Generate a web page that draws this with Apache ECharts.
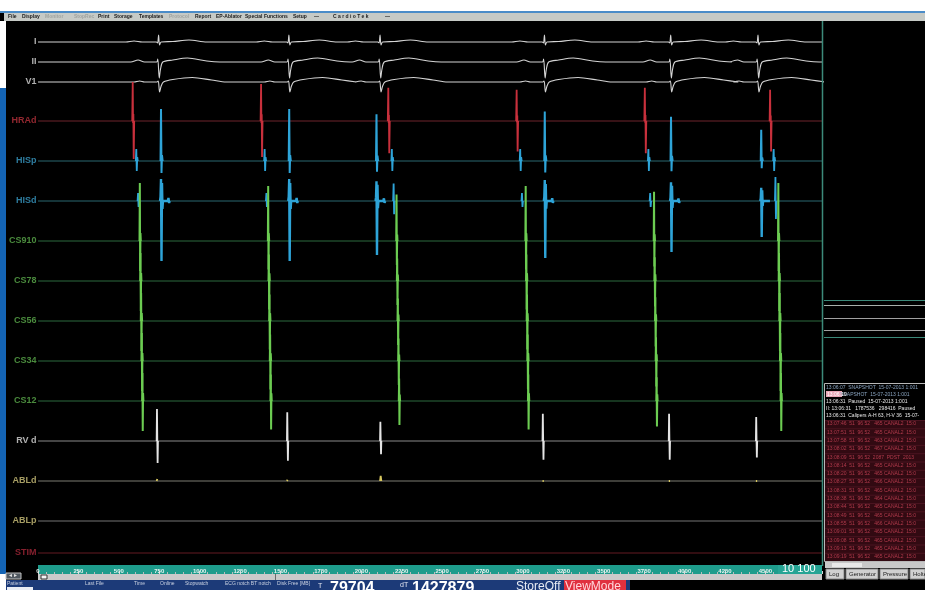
<!DOCTYPE html>
<html>
<head>
<meta charset="UTF-8">
<title>EP recording</title>
<script src="https://cdn.jsdelivr.net/npm/echarts/dist/echarts.min.js"></script>
<style>
  html, body { margin: 0; padding: 0; background: #fff; }
  #main { width: 925px; height: 590px; }
</style>
</head>
<body>
<div id="main"></div>
<script>
// channels (y = baseline position on the value axis, same units as the screen rows)
var channelNames = ['I', 'II', 'V1', 'HRAd', 'HISp', 'HISd', 'CS910', 'CS78', 'CS56', 'CS34', 'CS12', 'RV d', 'ABLd', 'ABLp', 'STIM'];
var channelBase  = [42, 62, 82, 121, 161, 201, 241, 281, 321, 361, 401, 441, 481, 521, 553];
var labelColors  = ['#dcdcdc', '#dcdcdc', '#dcdcdc', '#b8323c', '#3a9cc8', '#3a9cc8', '#5cae4c', '#5cae4c', '#5cae4c', '#5cae4c', '#5cae4c', '#dcdcdc', '#cfc47c', '#cfc47c', '#a8283a'];
var baseColors   = ['#c8c8c8', '#c8c8c8', '#c8c8c8', '#6e252c', '#2a6870', '#2a6870', '#2c6a3e', '#2c6a3e', '#2c6a3e', '#2c6a3e', '#2c6a3e', '#8a8a8a', '#7c7c72', '#747474', '#641a22'];

// beat times in ms
var qrsTimes  = [744, 1550, 2114, 3131, 3912, 4452];
var hraTimes  = [589, 1383, 2170, 2964, 3757, 4532];
var hisTimes  = [763, 1556, 2096, 3137, 3918, 4476];
var csTimes   = [632, 1426, 2220, 3019, 3813, 4582];
var rvTimes   = [738, 1544, 2120, 3125, 3906, 4445];

// per-beat amplitude factors
var hraScale  = [1, 0.95, 0.85, 0.8, 0.85, 0.8];
var hisScale  = [1, 1, 0.9, 0.95, 0.85, 0.6];
var hisAScale = [1, 1, 2.2, 1, 1, 3];
var csScale   = [1, 0.95, 0.8, 0.95, 0.85, 1];
var rvScale   = [1, 0.9, 0.6, 0.85, 0.85, 0.75];
var ablScale  = [1, 0.6, 2.6, 0.5, 0.5, 0.5];

// deflection shapes: [ms offset, amplitude upward]
var leadIShape  = [[-200, 0], [-150, 1], [-100, 0], [-12, 0], [-4, -1], [2, 7], [8, -3], [18, 0], [90, 0.5], [190, 2], [300, 0]];
var leadIIShape = [[-170, 0], [-125, 2], [-85, 0], [-10, 0], [-3, 3], [6, -16], [14, -7], [28, 0], [90, 2], [180, 4], [300, 1], [380, 0]];
var v1Shape     = [[-150, 0], [-115, 1], [-85, 0], [-8, 0], [0, 1], [8, -10], [18, -4], [32, 0], [90, 2.5], [210, 4.5], [330, 2], [420, 0]];
var hraShape    = [[-6, 0], [-3, 39], [-1, -2], [1, 7], [3, -38], [6, 0]];
var hisAShape   = [[-4, 0], [-1, 12], [2, -10], [5, 4], [8, 0]];
var hisVShape   = [[-5, 0], [-2, 52], [1, -12], [4, 6], [8, 0]];
var hisdAShape  = [[-3, 0], [0, 8], [3, -6], [6, 0]];
var hisdVShape  = [[-8, 0], [-5, 4], [-2, 22], [1, -60], [4, 18], [7, -8], [10, 0], [40, 0], [44, 3], [48, -2], [52, 0]];
var cs910Shape  = [[-4, 0], [-2, 58], [0, -30], [2, 8], [4, 0]];
var csShape     = [[-4, 0], [-2, 28], [0, -30], [2, 8], [4, 0]];
var csDelay     = [0, 4, 8, 12, 16];
var rvShape     = [[-4, 0], [-2, 32], [0, 2], [2, -22], [4, 0]];
var ablShape    = [[-4, 0], [0, 2], [4, 0]];

var xMax = 4850;
var rulerTicks = 4500;

function ecgTrace(times, shape, base) {
  var out = [[0, base]];
  times.forEach(function (t) {
    shape.forEach(function (p) { out.push([t + p[0], base - p[1]]); });
  });
  out.push([xMax, base]);
  return out;
}

function spikes(times, shape, base, delay, scales) {
  var out = [];
  times.forEach(function (t, i) {
    var s = scales ? scales[i] : 1;
    shape.forEach(function (p) { out.push([t + delay + p[0], base - p[1] * s]); });
    out.push([t + delay + shape[shape.length - 1][0] + 1, '-']);
  });
  return out;
}

var series = [];

function flat(i) {
  series.push({
    type: 'line', xAxisIndex: 0, yAxisIndex: 0, showSymbol: false, silent: true,
    data: [[0, channelBase[i]], [xMax, channelBase[i]]],
    lineStyle: { color: baseColors[i], width: 1 }, z: 2
  });
}
function wave(data, color, w, smooth) {
  series.push({
    type: 'line', xAxisIndex: 0, yAxisIndex: 0, showSymbol: false, silent: true,
    data: data, connectNulls: false, smooth: smooth || false,
    lineStyle: { color: color, width: w || 1.3 }, z: 3
  });
}

// ECG leads
wave(ecgTrace(qrsTimes, leadIShape, channelBase[0]), '#d4d4d4', 1.1, 0.3);
wave(ecgTrace(qrsTimes, leadIIShape, channelBase[1]), '#d4d4d4', 1.1, 0.3);
wave(ecgTrace(qrsTimes, v1Shape, channelBase[2]), '#d4d4d4', 1.1, 0.3);
// intracardiac baselines
for (var i = 3; i < channelNames.length; i++) flat(i);
// HRA
wave(spikes(hraTimes, hraShape, channelBase[3], 0, hraScale), '#c8303c', 1.8);
// His
wave(spikes(hraTimes, hisAShape, channelBase[4], 20, null), '#2ea4d8', 1.8);
wave(spikes(hisTimes, hisVShape, channelBase[4], 0, hisScale), '#2ea4d8', 2);
wave(spikes(hraTimes, hisdAShape, channelBase[5], 30, hisAScale), '#2ea4d8', 1.8);
wave(spikes(hisTimes, hisdVShape, channelBase[5], 0, hisScale), '#2ea4d8', 2.4);
// CS
wave(spikes(csTimes, cs910Shape, channelBase[6], csDelay[0], csScale), '#6ccc52', 2);
for (var c = 1; c < 5; c++) {
  wave(spikes(csTimes, csShape, channelBase[6 + c], csDelay[c], csScale), '#6ccc52', 2);
}
// RV / ABL
wave(spikes(rvTimes, rvShape, channelBase[11], 0, rvScale), '#e4e4e4', 1.8);
wave(spikes(rvTimes, ablShape, channelBase[12], 0, ablScale), '#d8c860', 1.8);

// channel names
series.push({
  type: 'scatter', xAxisIndex: 0, yAxisIndex: 0, symbolSize: 1, silent: true,
  itemStyle: { color: 'rgba(0,0,0,0)' },
  data: channelNames.map(function (n, k) {
    return {
      value: [0, channelBase[k]], name: n,
      label: { color: labelColors[k] }
    };
  }),
  label: {
    show: true, position: 'left', distance: 1, formatter: '{b}',
    fontSize: 9, fontWeight: 'bold', fontFamily: 'Liberation Sans, Arial, sans-serif'
  },
  z: 4
});

// ---- screen chrome ----
var menuItems = [['File', 8, 0], ['Display', 22, 0], ['Monitor', 45, 1], ['StopRec', 74, 1], ['Print', 98, 0], ['Storage', 114, 0],
  ['Templates', 139, 0], ['Protocol', 169, 1], ['Report', 195, 0], ['EP-Ablator', 216, 0], ['Special Functions', 245, 0],
  ['Setup', 293, 0], ['\u2014', 314, 0], ['C a r d i o T e k', 333, 0], ['\u2014', 385, 0]];
var statusItems = [['Patient', 7], ['Last File', 85], ['Time', 134], ['Online', 160], ['Stopwatch', 185], ['ECG notch BT notch', 225], ['Disk Free [MB]', 277]];
var logHead = ['13:06:07  SNAPSHOT  15-07-2013 1:001', '          SNAPSHOT  15-07-2013 1:001', '13:06:31  Paused  15-07-2013 1:001',
  'II: 13:06:31   1787536   298416  Paused', '13:06:31  Calipers A-H 63, H-V 36  15-07-'];
var logRows = ['13:07:46  51  96 52   465 CANAL2  15:0', '13:07:51  51  96 52   465 CANAL2  15:0', '13:07:58  51  96 52   463 CANAL2  15:0',
  '13:08:02  51  96 52   467 CANAL2  15:0', '13:08:09  51  96 52  2087  PDST  2013', '13:08:14  51  96 52   465 CANAL2  15:0',
  '13:08:20  51  96 52   465 CANAL2  15:0', '13:08:27  51  96 52   466 CANAL2  15:0', '13:08:31  51  96 52   465 CANAL2  15:0',
  '13:08:38  51  96 52   464 CANAL2  15:0', '13:08:44  51  96 52   465 CANAL2  15:0', '13:08:49  51  96 52   465 CANAL2  15:0',
  '13:08:55  51  96 52   466 CANAL2  15:0', '13:09:01  51  96 52   465 CANAL2  15:0', '13:09:08  51  96 52   465 CANAL2  15:0',
  '13:09:13  51  96 52   465 CANAL2  15:0', '13:09:19  51  96 52   465 CANAL2  15:0'];

var g = [];
function rect(x, y, w, h, fill, stroke, z) {
  g.push({ type: 'rect', shape: { x: x, y: y, width: w, height: h }, style: { fill: fill, stroke: stroke || null, lineWidth: stroke ? 1 : 0 }, silent: true, z: z || 0 });
}
function text(x, y, s, size, color, weight, z) {
  g.push({ type: 'text', x: x, y: y, silent: true, z: z || 10,
    style: { text: s, fontSize: size, fill: color, fontWeight: weight || 'normal', fontFamily: 'Liberation Sans, Arial, sans-serif', textVerticalAlign: 'top' } });
}
function hline(x1, x2, y, color, z) {
  g.push({ type: 'line', shape: { x1: x1, y1: y, x2: x2, y2: y }, style: { stroke: color, lineWidth: 1 }, silent: true, z: z || 5 });
}

// top strip, menu bar
rect(0, 0, 925, 11, '#ffffff');
rect(0, 11, 925, 2, '#4a8cc8');
rect(4, 13, 921, 8, '#c6cac6');
menuItems.forEach(function (m) { text(m[1], 14, m[0], 5, m[2] ? '#a0a4a0' : '#1a1a1a', 'bold'); });
// left edge
rect(0, 21, 6, 67, '#ffffff');
rect(0, 88, 6, 486, '#1464b4');
rect(0, 574, 6, 16, '#ffffff');
// right panel
g.push({ type: 'line', shape: { x1: 822.5, y1: 21, x2: 822.5, y2: 566 }, style: { stroke: '#3c8a7a', lineWidth: 1.5 }, silent: true, z: 5 });
hline(824, 925, 300.5, '#3c8a7a');
hline(824, 925, 305.5, '#a8b0ac');
hline(824, 925, 318.5, '#a0a0a0');
hline(824, 925, 330.5, '#a0a0a0');
hline(824, 925, 337.5, '#3c8a7a');
// log panel
rect(824.5, 383.5, 101, 178, '#000000', '#b8b8b8');
logHead.forEach(function (s, k) { text(826, 385 + k * 7, s, 5, k < 2 ? '#8aa4c0' : '#e8e8e8'); });
rect(826, 391, 16, 6, '#e6a4b4', null, 6);
text(827, 392, '13:06:10', 5, '#ffffff');
rect(825, 420, 100, 141, '#320a12');
logRows.forEach(function (s, k) {
  hline(825, 925, 420.5 + k * 8.3, '#4a1420', 6);
  text(827, 421.5 + k * 8.3, s, 5, '#b23a4c');
});
rect(825, 562, 100, 6, '#c8c8c8');
rect(832, 563, 30, 4, '#e8e8e8');
[['Log', 826, 18], ['Generator', 846, 32], ['Pressure', 880, 28], ['Holte', 910, 15]].forEach(function (t) {
  rect(t[1], 569, t[2], 10, '#d0d0d0', '#8a8a8a');
  text(t[1] + 3, 571, t[0], 6, '#222');
});
// ruler end box and scrollbar
rect(778, 565, 44, 9, '#26a494', null, 8);
text(782, 563.5, '10 100', 11, '#ffffff', 'normal', 9);
rect(38, 574, 784, 6, '#cacaca');
rect(41, 575, 6, 4, '#f4f4f4', '#333');
g.push({ type: 'line', shape: { x1: 275.5, y1: 574, x2: 275.5, y2: 580 }, style: { stroke: '#6a6a6a', lineWidth: 1 }, silent: true, z: 6 });
rect(6, 573, 15, 6, '#505860', '#c0c0c0');
text(8, 573, '\u25C4\u25BA', 5, '#e0e0e0');
// status bar
rect(6, 580, 624, 10, '#1c3a78');
statusItems.forEach(function (s) { text(s[1], 581, s[0], 5, '#c8d0e0'); });
rect(7, 587, 26, 3, '#e8ecf4');
text(318, 583, 'T', 7, '#e0e4f0');
text(330, 581, '79704', 16, '#ffffff', 'bold');
text(400, 582, 'dT', 7, '#e0e4f0');
text(412, 581, '1427879', 16, '#ffffff', 'bold');
text(516, 581, 'StoreOff', 12, '#e8ecf4');
rect(564, 580, 62, 10, '#e0303e');
text(565, 581, 'ViewMode', 12, '#ffd8dc');

var chart = echarts.init(document.getElementById('main'), null, { renderer: 'canvas' });
chart.setOption({
  backgroundColor: '#000000',
  animation: false,
  grid: [
    { left: 38, right: 103, top: 21, bottom: 28, show: false },
    { left: 38, right: 103, top: 565, height: 9, show: true, backgroundColor: '#1e9c8c', borderWidth: 0 }
  ],
  xAxis: [
    { type: 'value', gridIndex: 0, min: 0, max: xMax, show: false },
    {
      type: 'value', gridIndex: 1, min: 0, max: xMax, interval: 250, position: 'top',
      axisLine: { show: false },
      axisTick: { show: true, length: 3, lineStyle: { color: '#d8d8d8', width: 1 } },
      minorTick: { show: true, splitNumber: 5, length: 2, lineStyle: { color: '#bcbcbc' } },
      splitLine: { show: false },
      axisLabel: {
        margin: -9, fontSize: 6, fontWeight: 'bold', color: '#e8f4f0', verticalAlign: 'bottom',
        fontFamily: 'Liberation Sans, Arial, sans-serif',
        formatter: function (v) { return v > rulerTicks ? '' : String(v); }
      }
    }
  ],
  yAxis: [
    { type: 'value', gridIndex: 0, min: 21, max: 562, inverse: true, show: false },
    { type: 'value', gridIndex: 1, min: 0, max: 1, show: false }
  ],
  series: series,
  graphic: { elements: g }
});
</script>
</body>
</html>
